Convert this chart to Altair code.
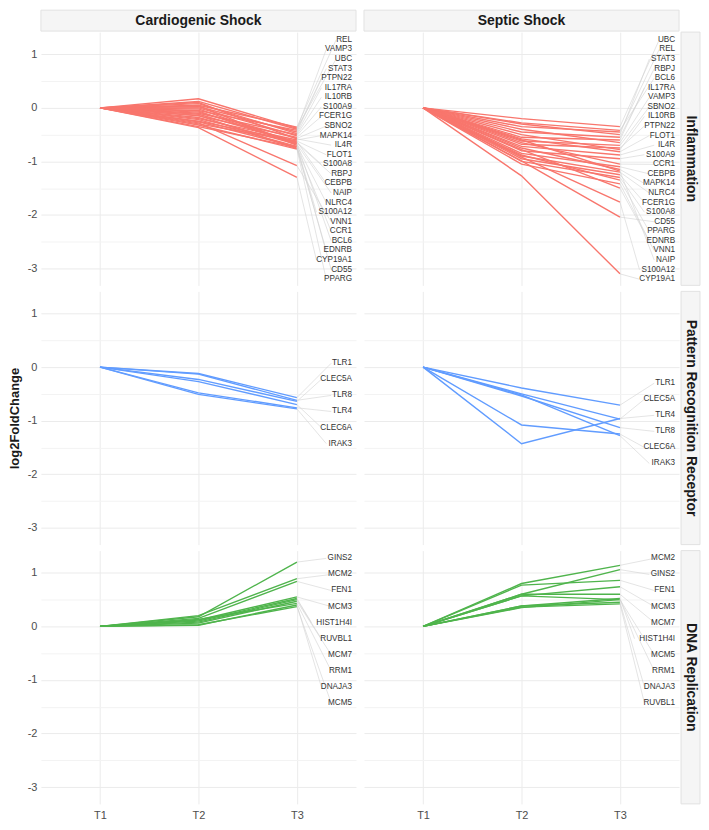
import altair as alt
import pandas as pd
import numpy as np

FONT = "Liberation Sans"

conditions = ["Cardiogenic Shock", "Septic Shock"]
pathways = ["Inflammation", "Pattern Recognition Receptor", "DNA Replication"]
timepoints = ["T1", "T2", "T3"]
y_ticks = [-3, -2, -1, 0, 1]
pathway_colors = ["#F8766D", "#619CFF", "#4FB44C"]

# ---- Cardiogenic Shock / Inflammation (genes in label order, top to bottom)
card_inf_genes = ["REL", "VAMP3", "UBC", "STAT3", "PTPN22", "IL17RA", "IL10RB", "S100A9",
                  "FCER1G", "SBNO2", "MAPK14", "IL4R", "FLOT1", "S100A8", "RBPJ", "CEBPB",
                  "NAIP", "NLRC4", "S100A12", "VNN1", "CCR1", "BCL6", "EDNRB", "CYP19A1",
                  "CD55", "PPARG"]
card_inf_t2 = [0.05, 0.12, 0.17, 0.02, -0.05, 0.08, -0.10, 0.00, -0.15, -0.08, -0.20, 0.10,
               -0.25, -0.12, -0.02, -0.30, -0.18, 0.04, -0.22, -0.28, -0.35, -0.06, -0.14,
               -0.37, -0.26, -0.32]
card_inf_t3 = [-0.36, -0.40, -0.38, -0.45, -0.42, -0.48, -0.50, -0.52, -0.55, -0.57, -0.60,
               -0.58, -0.62, -0.64, -0.66, -0.63, -0.68, -0.70, -0.72, -1.08, -0.74, -0.67,
               -0.76, -1.30, -0.73, -0.77]

# ---- Septic Shock / Inflammation
sep_inf_genes = ["UBC", "REL", "STAT3", "RBPJ", "BCL6", "IL17RA", "VAMP3", "SBNO2", "IL10RB",
                 "PTPN22", "FLOT1", "IL4R", "S100A9", "CCR1", "CEBPB", "MAPK14", "NLRC4",
                 "FCER1G", "S100A8", "CD55", "PPARG", "EDNRB", "VNN1", "NAIP", "S100A12",
                 "CYP19A1"]
sep_inf_t2 = [-0.20, -0.35, -0.30, -0.45, -0.28, -0.55, -0.40, -0.62, -0.50, -0.68, -0.58,
              -0.72, -0.80, -0.65, -0.85, -0.75, -0.90, -0.95, -1.00, -0.99, -0.88, -1.05,
              -0.78, -0.60, -0.92, -1.27]
sep_inf_t3 = [-0.35, -0.45, -0.50, -0.55, -0.42, -0.60, -0.65, -0.70, -0.78, -0.75, -0.82,
              -0.88, -0.95, -1.05, -1.10, -1.15, -1.20, -1.25, -1.30, -2.04, -1.35, -1.42,
              -1.50, -1.18, -1.76, -3.10]

# ---- Pattern Recognition Receptor
card_prr_genes = ["TLR1", "CLEC5A", "TLR8", "TLR4", "CLEC6A", "IRAK3"]
card_prr_t2 = [-0.12, -0.23, -0.13, -0.48, -0.27, -0.51]
card_prr_t3 = [-0.57, -0.64, -0.62, -0.76, -0.70, -0.78]

sep_prr_genes = ["TLR1", "CLEC5A", "TLR4", "TLR8", "CLEC6A", "IRAK3"]
sep_prr_t2 = [-0.39, -0.50, -1.43, -0.54, -1.08, -0.52]
sep_prr_t3 = [-0.71, -0.97, -0.96, -1.13, -1.25, -1.28]

# ---- DNA Replication
card_dna_genes = ["GINS2", "MCM2", "FEN1", "MCM3", "HIST1H4I", "RUVBL1", "MCM7", "RRM1",
                  "DNAJA3", "MCM5"]
card_dna_t2 = [0.18, 0.20, 0.15, 0.12, 0.10, 0.08, 0.06, 0.13, 0.02, 0.03]
card_dna_t3 = [1.20, 0.89, 0.84, 0.55, 0.52, 0.50, 0.47, 0.43, 0.40, 0.37]

sep_dna_genes = ["MCM2", "GINS2", "FEN1", "MCM3", "MCM7", "HIST1H4I", "MCM5", "RRM1",
                 "DNAJA3", "RUVBL1"]
sep_dna_t2 = [0.80, 0.60, 0.77, 0.57, 0.60, 0.38, 0.57, 0.35, 0.38, 0.36]
sep_dna_t3 = [1.14, 1.06, 0.86, 0.74, 0.60, 0.52, 0.50, 0.50, 0.45, 0.42]

panels = {
    ("Cardiogenic Shock", "Inflammation"): (card_inf_genes, card_inf_t2, card_inf_t3),
    ("Septic Shock", "Inflammation"): (sep_inf_genes, sep_inf_t2, sep_inf_t3),
    ("Cardiogenic Shock", "Pattern Recognition Receptor"): (card_prr_genes, card_prr_t2, card_prr_t3),
    ("Septic Shock", "Pattern Recognition Receptor"): (sep_prr_genes, sep_prr_t2, sep_prr_t3),
    ("Cardiogenic Shock", "DNA Replication"): (card_dna_genes, card_dna_t2, card_dna_t3),
    ("Septic Shock", "DNA Replication"): (sep_dna_genes, sep_dna_t2, sep_dna_t3),
}

# ---- layout constants
PW, PH = 316, 254
STRIP_H = 21
Y_DOMAIN = [-3.315, 1.415]
X_DOMAIN = [0.4, 3.6]
LAB_TOP = Y_DOMAIN[1] - 0.145
LAB_BOT = Y_DOMAIN[0] + 0.115
LAB_X = 3.56
CHAR_W = 0.05

y_grid_vals = [v / 2 for v in range(-6, 3)]


def y_axis(show_labels, title):
    kw = dict(values=y_grid_vals, ticks=False, domain=False, labels=show_labels,
              gridColor={"condition": {"test": "datum.value % 1 !== 0", "value": "#F3F3F3"},
                         "value": "#EBEBEB"},
              gridWidth=1)
    if show_labels:
        kw.update(labelExpr="datum.value % 1 === 0 ? '' + datum.value : ''",
                  labelPadding=4, labelFontSize=11, labelColor="#4D4D4D", labelFont=FONT)
    if title:
        kw.update(title=title, titlePadding=6, titleFontSize=13, titleFontWeight="bold",
                  titleFont=FONT, titleColor="#1A1A1A")
    else:
        kw.update(title=None)
    return alt.Axis(**kw)


def x_axis(show_labels):
    kw = dict(values=[1, 2, 3], ticks=False, domain=False, labels=show_labels, title=None,
              gridColor="#EBEBEB", gridWidth=1)
    if show_labels:
        kw.update(labelExpr="'T' + datum.value", labelPadding=6, labelFontSize=11,
                  labelColor="#4D4D4D", labelFont=FONT)
    return alt.Axis(**kw)


def panel(cond, pathway, row_i, col_i):
    genes, t2, t3 = panels[(cond, pathway)]
    color = pathway_colors[pathways.index(pathway)]
    rows = []
    for g, a, b in zip(genes, t2, t3):
        rows.append({"gene": g, "time": 1, "value": 0.0})
        rows.append({"gene": g, "time": 2, "value": a})
        rows.append({"gene": g, "time": 3, "value": b})
    line_df = pd.DataFrame(rows)

    n = len(genes)
    gap = min(0.3, (LAB_TOP - LAB_BOT) / (n - 1))
    top = float(np.mean(t3)) + gap * (n - 1) / 2
    top = min(top, LAB_TOP)
    if top - gap * (n - 1) < LAB_BOT:
        top = LAB_BOT + gap * (n - 1)
    lab_df = pd.DataFrame({
        "gene": genes,
        "t3": t3,
        "x0": [3.0] * n,
        "label_y": [top - i * gap for i in range(n)],
        "x1": [LAB_X - CHAR_W * len(g) - 0.012 for g in genes],
        "xt": [LAB_X] * n,
    })

    xa = x_axis(row_i == 2)
    ya = y_axis(col_i == 0, "log2FoldChange" if (col_i == 0 and row_i == 1) else None)
    xs = alt.Scale(domain=X_DOMAIN, nice=False, zero=False)
    ys = alt.Scale(domain=Y_DOMAIN, nice=False, zero=False)

    lines = alt.Chart(line_df).mark_line(color=color, strokeWidth=1.4).encode(
        x=alt.X("time:Q", scale=xs, axis=xa),
        y=alt.Y("value:Q", scale=ys, axis=ya),
        detail="gene:N",
    )
    segs = alt.Chart(lab_df).mark_rule(color="#D2D2D2", strokeWidth=0.6).encode(
        x=alt.X("x0:Q", scale=xs, axis=xa),
        y=alt.Y("t3:Q", scale=ys, axis=ya),
        x2="x1:Q",
        y2="label_y:Q",
    )
    texts = alt.Chart(lab_df).mark_text(align="right", baseline="middle", fontSize=8.2,
                                        font=FONT, color="#333333").encode(
        x=alt.X("xt:Q", scale=xs, axis=xa),
        y=alt.Y("label_y:Q", scale=ys, axis=ya),
        text="gene:N",
    )
    return alt.layer(lines, segs, texts).properties(width=PW, height=PH)


def col_strip(label):
    base = alt.Chart(pd.DataFrame({"label": [label]}))
    rect = base.mark_rect(fill="#F5F5F5", stroke="#E2E2E2", strokeWidth=1).encode(
        x=alt.value(0), x2=alt.value(PW), y=alt.value(0), y2=alt.value(STRIP_H))
    txt = base.mark_text(fontSize=14, fontWeight="bold", font=FONT, color="#1A1A1A",
                         align="center", baseline="middle").encode(
        x=alt.value(PW / 2), y=alt.value(STRIP_H / 2 + 0.5), text="label:N")
    return alt.layer(rect, txt).properties(width=PW, height=16)


def row_strip(label):
    base = alt.Chart(pd.DataFrame({"label": [label]}))
    rect = base.mark_rect(fill="#F5F5F5", stroke="#E2E2E2", strokeWidth=1).encode(
        x=alt.value(-6), x2=alt.value(13), y=alt.value(0), y2=alt.value(PH))
    txt = base.mark_text(fontSize=14, fontWeight="bold", font=FONT, color="#1A1A1A",
                         align="center", baseline="middle", angle=90).encode(
        x=alt.value(3.5), y=alt.value(PH / 2), text="label:N")
    return alt.layer(rect, txt).properties(width=12, height=PH)


empty = alt.Chart(pd.DataFrame({"label": [""]})).mark_rect(opacity=0).encode(
    x=alt.value(0), x2=alt.value(12), y=alt.value(0), y2=alt.value(16)
).properties(width=12, height=16)

cells = [col_strip(conditions[0]), col_strip(conditions[1]), empty]
for r, pw in enumerate(pathways):
    cells.append(panel(conditions[0], pw, r, 0))
    cells.append(panel(conditions[1], pw, r, 1))
    cells.append(row_strip(pw))

chart = alt.concat(*cells, columns=3, spacing={"row": 6, "column": 8},
                   bounds="flush", align="each").configure(
    font=FONT, padding=0
).configure_view(strokeWidth=0, stroke="transparent")

chart.save("out.html", embed_options={"renderer": "svg", "actions": False})
